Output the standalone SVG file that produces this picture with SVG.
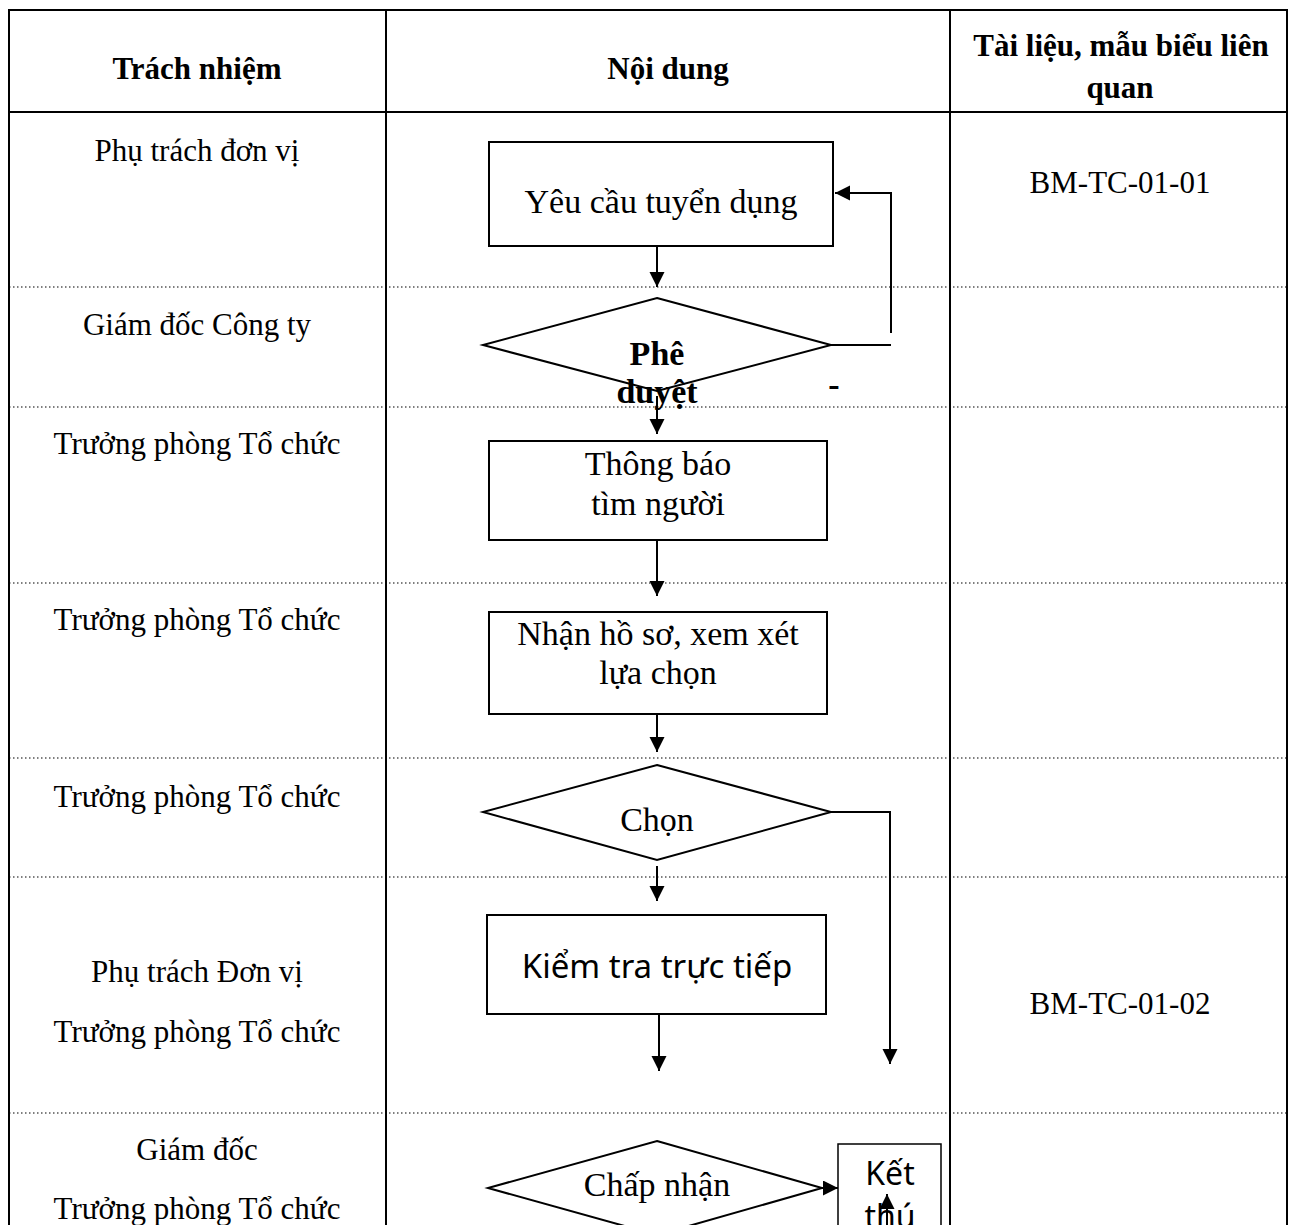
<svg xmlns="http://www.w3.org/2000/svg" width="1296" height="1225" viewBox="0 0 1296 1225">
<defs>
<marker id="ah" markerWidth="16" markerHeight="16" refX="15" refY="7.5" orient="auto" markerUnits="userSpaceOnUse">
<path d="M0,0 L15,7.5 L0,15 Z" fill="#000"/>
</marker>
<style>
.tb{stroke:#000;stroke-width:2;fill:none}
.dot{stroke:#000;stroke-width:1.2;stroke-dasharray:1.5 2.5;fill:none}
.nd{stroke:#000;stroke-width:2;fill:#fff}
.ln{stroke:#000;stroke-width:2;fill:none}
.ar{stroke:#000;stroke-width:2;fill:none;marker-end:url(#ah)}
.hd{font-family:"Liberation Serif","Times New Roman",serif;font-weight:bold;font-size:31px;text-anchor:middle;fill:#000}
.tx{font-family:"Liberation Serif","Times New Roman",serif;font-size:31px;text-anchor:middle;fill:#000}
.fx{font-family:"Liberation Serif","Times New Roman",serif;font-size:34px;text-anchor:middle;fill:#000}
.fb{font-family:"Liberation Serif","Times New Roman",serif;font-weight:bold;font-size:34px;text-anchor:middle;fill:#000}
.sx{font-family:"Noto Sans","Open Sans",sans-serif;text-anchor:middle;fill:#000}
</style>
</defs>
<rect width="1296" height="1225" fill="#fff"/>
<g id="table">
<line class="dot" x1="9" y1="287" x2="1287" y2="287"/>
<line class="dot" x1="9" y1="407" x2="1287" y2="407"/>
<line class="dot" x1="9" y1="583" x2="1287" y2="583"/>
<line class="dot" x1="9" y1="758" x2="1287" y2="758"/>
<line class="dot" x1="9" y1="877" x2="1287" y2="877"/>
<line class="dot" x1="9" y1="1113" x2="1287" y2="1113"/>
<path class="tb" d="M9,1230 L9,10 L1287,10 L1287,1230"/>
<line class="tb" x1="9" y1="112" x2="1287" y2="112"/>
<line class="tb" x1="386" y1="10" x2="386" y2="1230"/>
<line class="tb" x1="950" y1="10" x2="950" y2="1230"/>
<text class="hd" x="197" y="79">Trách nhiệm</text>
<text class="hd" x="668" y="79">Nội dung</text>
<text class="hd" x="1121" y="56">Tài liệu, mẫu biểu liên</text>
<text class="hd" x="1120" y="98">quan</text>
<text class="tx" x="197" y="161">Phụ trách đơn vị</text>
<text class="tx" x="197" y="335">Giám đốc Công ty</text>
<text class="tx" x="197" y="454">Trưởng phòng Tổ chức</text>
<text class="tx" x="197" y="630">Trưởng phòng Tổ chức</text>
<text class="tx" x="197" y="807">Trưởng phòng Tổ chức</text>
<text class="tx" x="197" y="982">Phụ trách Đơn vị</text>
<text class="tx" x="197" y="1042">Trưởng phòng Tổ chức</text>
<text class="tx" x="197" y="1160">Giám đốc</text>
<text class="tx" x="197" y="1219">Trưởng phòng Tổ chức</text>
<text class="tx" x="1120" y="193">BM-TC-01-01</text>
<text class="tx" x="1120" y="1014">BM-TC-01-02</text>
</g>
<g id="connectors">
<line class="ar" x1="657" y1="247" x2="657" y2="287"/>
<path class="ln" d="M831,345 L891,345"/>
<path class="ar" d="M891,333 L891,193 L835,193"/>
<line class="ar" x1="657" y1="396" x2="657" y2="434"/>
<line class="ar" x1="657" y1="541" x2="657" y2="596"/>
<line class="ar" x1="657" y1="715" x2="657" y2="752"/>
<line class="ar" x1="657" y1="866" x2="657" y2="901"/>
<path class="ar" d="M831,812 L890,812 L890,1064"/>
<line class="ar" x1="659" y1="1015" x2="659" y2="1071"/>
<line class="ar" x1="822" y1="1188" x2="838" y2="1188"/>
<text class="fb" x="834" y="396" font-size="31">-</text>
</g>
<g id="n1">
<rect class="nd" x="489" y="142" width="344" height="104"/>
<text class="fx" x="661" y="213">Yêu cầu tuyển dụng</text>
</g>
<g id="n2">
<polygon class="nd" points="657,298 831,345 657,391 483,345"/>
<text class="fb" x="657" y="365">Phê</text>
<text class="fb" x="657" y="403">duyệt</text>
</g>
<g id="n3">
<rect class="nd" x="489" y="441" width="338" height="99"/>
<text class="fx" x="658" y="475">Thông báo</text>
<text class="fx" x="658" y="515">tìm người</text>
</g>
<g id="n4">
<rect class="nd" x="489" y="612" width="338" height="102"/>
<text class="fx" x="658" y="645">Nhận hồ sơ, xem xét</text>
<text class="fx" x="658" y="684">lựa chọn</text>
</g>
<g id="n5">
<polygon class="nd" points="657,765 831,812 657,860 483,812"/>
<text class="fx" x="657" y="831">Chọn</text>
</g>
<g id="n6">
<rect class="nd" x="487" y="915" width="339" height="99"/>
<text class="sx" x="657" y="978" font-size="33">Kiểm tra trực tiếp</text>
</g>
<g id="n7">
<polygon class="nd" points="657,1141 822,1188 657,1235 488,1188"/>
<text class="fx" x="657" y="1196">Chấp nhận</text>
</g>
<g id="n8">
<rect class="nd" x="838" y="1144" width="103" height="100" style="stroke-width:1.5"/>
<text class="sx" x="890" y="1185" font-size="32">Kết</text>
<text class="sx" x="890" y="1228" font-size="32">thú</text>
<line class="ar" x1="887" y1="1240" x2="887" y2="1194"/>
</g>
</svg>
